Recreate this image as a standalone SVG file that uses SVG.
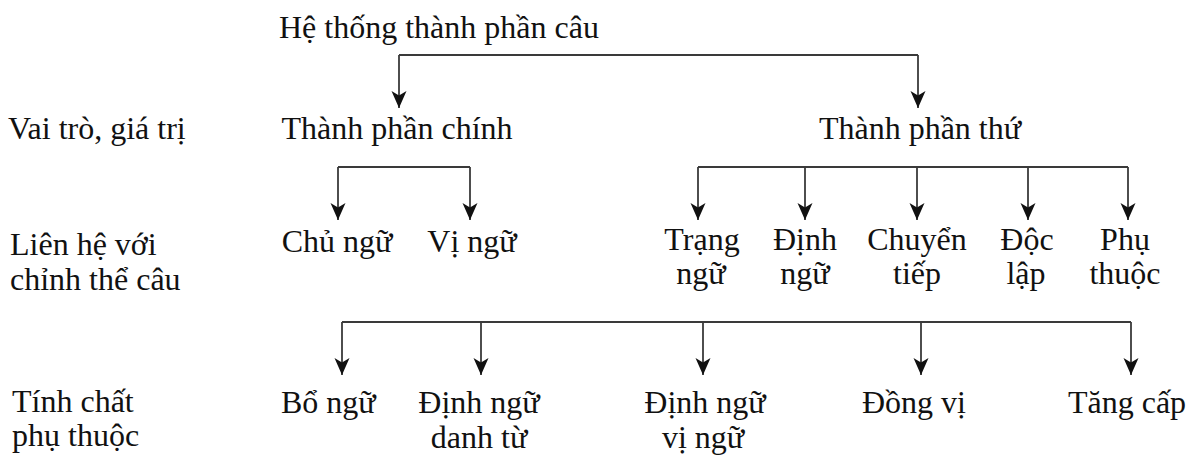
<svg xmlns="http://www.w3.org/2000/svg" width="1187" height="455" viewBox="0 0 1187 455">
<defs>
<style>
text{font-family:"Liberation Serif","Times New Roman",serif;font-size:32px;fill:#111}
.m{text-anchor:middle}
.c{stroke:#3a3a3a;stroke-width:1.8;fill:none}
.a{marker-end:url(#arr)}
</style>
<marker id="arr" markerUnits="userSpaceOnUse" markerWidth="18" markerHeight="18" viewBox="0 0 18 18" refX="17" refY="9" orient="auto">
<path d="M0,1.5 L17,9 L0,16.5 L4.5,9 Z" fill="#111"/>
</marker>
</defs>
<rect width="1187" height="455" fill="#fff"/>
<g id="labels">
<text x="8" y="139">Vai trò, giá trị</text>
<text x="10" y="255">Liên hệ với</text>
<text x="10" y="290">chỉnh thể câu</text>
<text x="12" y="412">Tính chất</text>
<text x="12" y="446">phụ thuộc</text>
</g>
<g id="root"><text x="279" y="38">Hệ thống thành phần câu</text></g>
<g id="tp-chinh"><text class="m" x="397" y="139">Thành phần chính</text></g>
<g id="tp-thu"><text class="m" x="920" y="139">Thành phần thứ</text></g>
<g id="chu-ngu"><text class="m" x="337" y="252">Chủ ngữ</text></g>
<g id="vi-ngu"><text class="m" x="472" y="252">Vị ngữ</text></g>
<g id="trang-ngu"><text class="m" x="702" y="250">Trạng</text><text class="m" x="701" y="284">ngữ</text></g>
<g id="dinh-ngu"><text class="m" x="805" y="250">Định</text><text class="m" x="805" y="284">ngữ</text></g>
<g id="chuyen-tiep"><text class="m" x="917" y="250">Chuyển</text><text class="m" x="917" y="284">tiếp</text></g>
<g id="doc-lap"><text class="m" x="1027" y="250">Độc</text><text class="m" x="1026" y="284">lập</text></g>
<g id="phu-thuoc"><text class="m" x="1125" y="250">Phụ</text><text class="m" x="1125" y="284">thuộc</text></g>
<g id="bo-ngu"><text x="281" y="413">Bổ ngữ</text></g>
<g id="dn-danh-tu"><text class="m" x="479" y="413">Định ngữ</text><text class="m" x="479" y="448">danh từ</text></g>
<g id="dn-vi-ngu"><text class="m" x="705" y="413">Định ngữ</text><text class="m" x="703" y="448">vị ngữ</text></g>
<g id="dong-vi"><text class="m" x="914" y="413">Đồng vị</text></g>
<g id="tang-cap"><text class="m" x="1127" y="413">Tăng cấp</text></g>
<g id="connectors">
<line class="c" x1="399" y1="55" x2="918" y2="55"/>
<line class="c a" x1="399" y1="55" x2="399" y2="108"/>
<line class="c a" x1="918" y1="55" x2="918" y2="108"/>
<line class="c" x1="338" y1="167" x2="470" y2="167"/>
<line class="c a" x1="338" y1="167" x2="338" y2="220"/>
<line class="c a" x1="470" y1="167" x2="470" y2="220"/>
<line class="c" x1="698" y1="167" x2="1128" y2="167"/>
<line class="c a" x1="698" y1="167" x2="698" y2="220"/>
<line class="c a" x1="805" y1="167" x2="805" y2="220"/>
<line class="c a" x1="917" y1="167" x2="917" y2="220"/>
<line class="c a" x1="1028" y1="167" x2="1028" y2="220"/>
<line class="c a" x1="1128" y1="167" x2="1128" y2="220"/>
<line class="c" x1="342" y1="322" x2="1131" y2="322"/>
<line class="c a" x1="342" y1="322" x2="342" y2="375"/>
<line class="c a" x1="481" y1="322" x2="481" y2="375"/>
<line class="c a" x1="703" y1="322" x2="703" y2="375"/>
<line class="c a" x1="921" y1="322" x2="921" y2="375"/>
<line class="c a" x1="1131" y1="322" x2="1131" y2="375"/>
</g>
</svg>
